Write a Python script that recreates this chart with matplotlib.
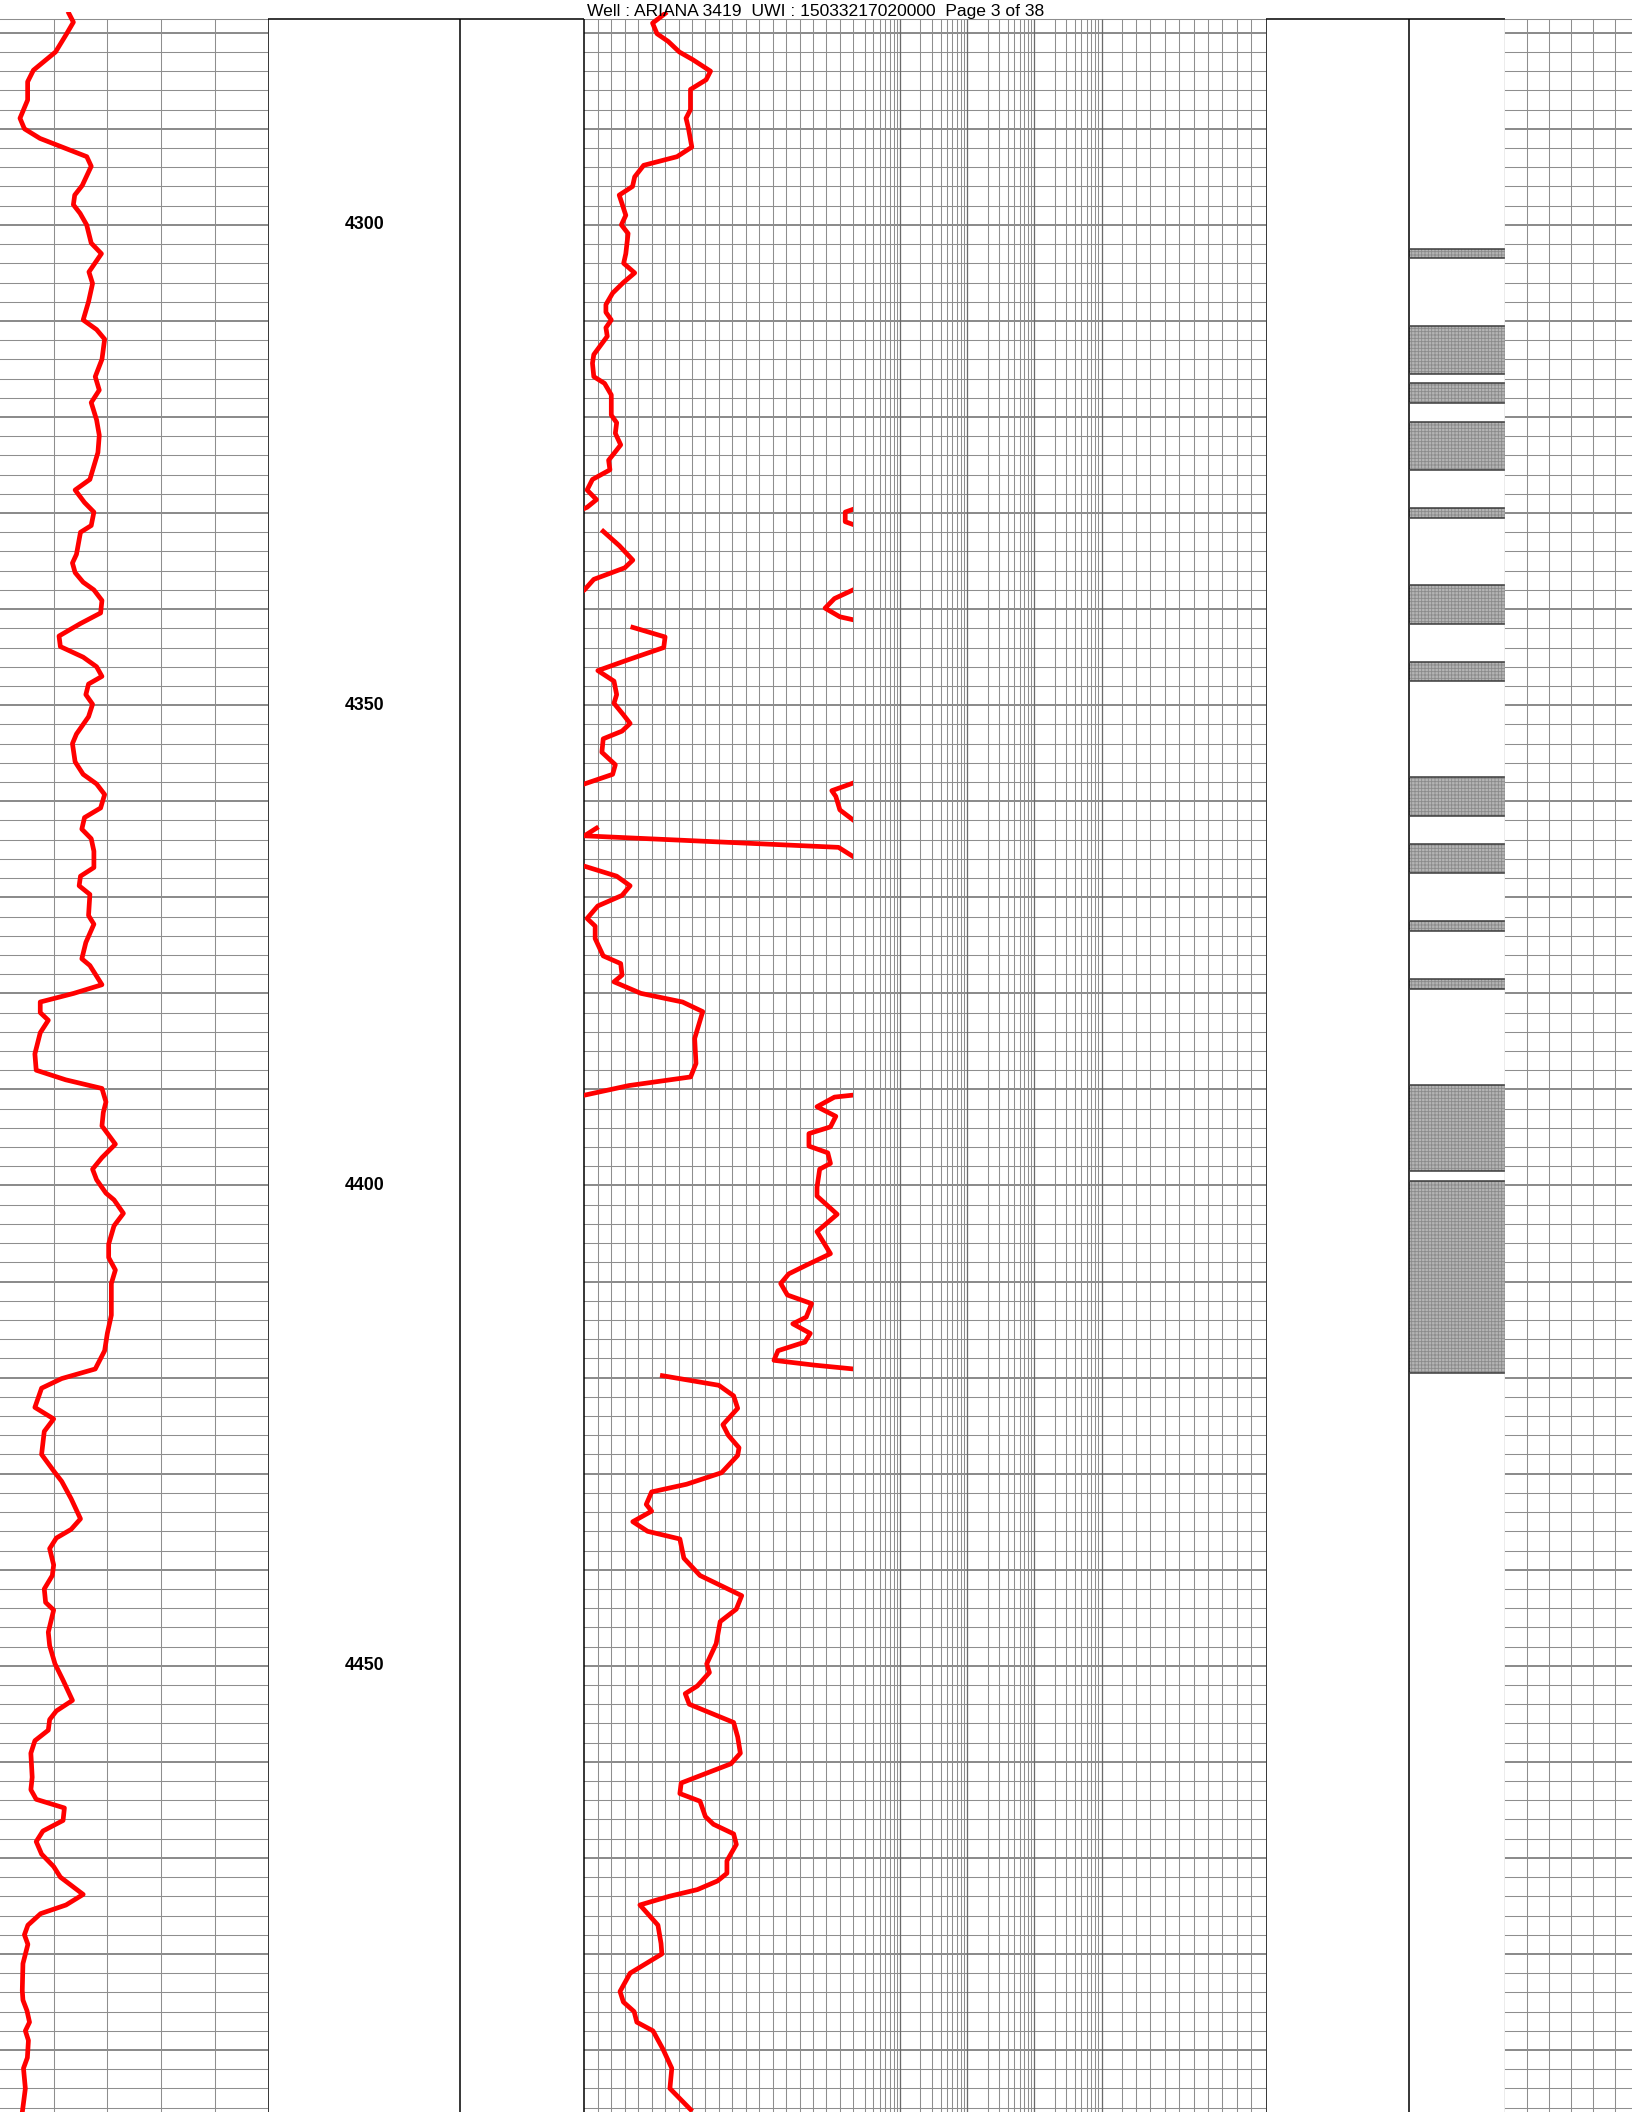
import numpy as np
import matplotlib.pyplot as plt

plt.rcParams['font.family'] = ['Liberation Sans', 'DejaVu Sans']
plt.rcParams['hatch.linewidth'] = 0.6

# Page / depth window
TITLE = "Well : ARIANA 3419  UWI : 15033217020000  Page 3 of 38"
TOP_DEPTH = 4278.6
AX_TOP = 4277.84
AX_BOT = 4496.45
depth_labels = [4300, 4350, 4400, 4450]

# Gamma ray (track 1, 0-200)
gr_value = [51.4, 54.7, 49.7, 41.4, 24.9, 20.6, 20.6, 14.9, 18.2, 29.8, 46.4, 64.7, 68.0, 61.3,
            55.7, 54.7, 59.7, 64.6, 68.0, 75.6, 66.3, 69.0, 66, 62, 72, 78, 76, 71, 74, 68, 72,
            74, 73, 67, 56, 63, 70, 68, 60, 57, 54, 56, 62, 70, 76, 75, 60, 44, 45, 62, 72, 76,
            66, 64, 69, 66, 57, 54, 56, 62, 72, 78, 75, 63, 61, 68, 70, 70, 60, 59, 67, 66, 70,
            64, 61, 67, 76, 55, 30, 30, 36, 30, 26, 27, 49, 76, 79, 77, 76, 86, 76, 69, 72, 79,
            85, 92, 85, 81, 81, 86, 83, 83, 80, 78, 71, 46, 31, 26, 40, 33, 31, 41, 46, 53, 60,
            53, 42, 37, 40, 39, 33, 34, 40, 36, 37, 41, 47, 54, 42, 37, 36, 26, 23, 24, 23, 27,
            48, 47, 32, 27, 31, 40, 45, 62, 49.2, 30.3, 20.8, 18.2, 20.8, 17.1, 16.6, 17.1, 20.1,
            22.0, 18.9, 21.2, 20.4, 17.5, 18.9, 16.6]
gr_depth = [4278.0, 4278.9, 4280.1, 4282.0, 4283.9, 4285.1, 4287.0, 4288.9, 4290.0, 4291.0, 4291.9,
            4292.9, 4293.9, 4295.9, 4296.9, 4297.9, 4298.8, 4300.0, 4301.9, 4303.0, 4304.9, 4306.1,
            4308.0, 4309.9, 4310.9, 4311.9, 4314.0, 4315.8, 4317.2, 4318.5, 4320.3, 4321.9, 4323.7,
            4326.5, 4327.6, 4328.9, 4329.9, 4331.3, 4332.0, 4334.3, 4335.2, 4336.2, 4337.2, 4338.0,
            4339.1, 4340.4, 4341.5, 4342.8, 4343.9, 4345.0, 4346.0, 4347.0, 4347.8, 4348.9, 4349.9,
            4351.2, 4353.0, 4354.0, 4355.9, 4357.2, 4358.2, 4359.3, 4360.7, 4361.7, 4362.9, 4363.9,
            4365.2, 4366.9, 4367.8, 4368.8, 4369.7, 4371.9, 4372.8, 4374.7, 4376.4, 4377.1, 4379.1,
            4380.0, 4380.9, 4382.0, 4382.8, 4384.1, 4386.3, 4388.0, 4389.0, 4389.9, 4391.3, 4392.4,
            4393.8, 4395.7, 4397.1, 4398.3, 4399.4, 4400.8, 4401.5, 4402.9, 4404.2, 4406.1, 4407.5,
            4408.8, 4410.2, 4413.5, 4415.4, 4417.2, 4419.1, 4420.1, 4421.1, 4423.1, 4424.3, 4425.6,
            4428.0, 4429.9, 4430.8, 4432.6, 4434.7, 4435.8, 4436.7, 4437.8, 4439.5, 4440.6, 4442.0,
            4443.4, 4444.2, 4446.5, 4447.9, 4449.8, 4451.5, 4453.6, 4454.7, 4455.6, 4456.7, 4457.8,
            4459.1, 4461.6, 4462.9, 4463.9, 4464.8, 4466.1, 4467.2, 4468.3, 4469.6, 4470.9, 4472.0,
            4473.8, 4474.9, 4475.8, 4477.0, 4478.0, 4479.0, 4481.0, 4483.8, 4484.8, 4485.9, 4487.1,
            4488.0, 4489.0, 4490.8, 4491.9, 4494.0, 4496.5]

# Track 3 curve (0-200 scale, wraps at edges; nan = pen up)
nan = np.nan
c3_value = [60.0, 50.7, 54.0, 62.3, 70.6, 80.6, 93.8, 90.5, 78.9, 78.9, 75.6, 77.3, 79.9, 68.9, 44.1,
            37.4, 35.8, 25.9, 30.8, 27.5, 32.5, 30.8, 29.2, 37.4, 29, 21, 16, 16, 20, 16, 17, 7, 6, 7,
            15, 20, 20, 24, 23, 27, 22, 18, 19, 6, 2, 9, 2, -3, nan,
            206, 194, 194, 206, nan,
            14, 26, 36, 30, 7, 0, -6, nan,
            206, 186, 179, 190, 206, nan,
            36, 60, 59, 32, 10, 22, 24, 22, 29, 34, 28, 14, 13, 23, 21, 0, -6, nan,
            206, 184, 187, 190, 206, nan,
            9, 0, 189, 206, nan,
            -6, 24, 34, 28, 10, 2, 8, 8, 14, 27, 28, 22, 42, 73, 88, 82, 83, 79, 33, 0, -6, nan,
            206, 186, 173, 187, 183, 167, 167, 181, 183, 175, 173, 173, 188, 173, 183, 165, 152,
            146, 151, 169, 165, 155, 168, 164, 144, 141, 171, 200, 206, nan,
            58, 100, 111, 114, 103, 107, 115, 114, 102, 76, 50, 46, 50, 36, 47, 71, 74, 86, 117,
            113, 101, 98, 91, 93, 84, 75, 78, 111, 114, 116, 109, 72, 71, 86, 90, 96, 111, 113, 106,
            106, 99, 84, 63, 41.3, 54.7, 57, 57.6, 34, 26.5, 29, 37, 39, 51, 58.4, 65, 63.6, 79]
c3_depth = [4278.0, 4279.0, 4280.1, 4280.9, 4282.0, 4282.8, 4284.0, 4284.9, 4285.9, 4288.0, 4288.9,
            4289.9, 4291.9, 4292.9, 4293.8, 4295.0, 4296.0, 4296.9, 4299.0, 4300.0, 4300.9, 4303.0,
            4304.0, 4305.0, 4306.0, 4307.1, 4308.3, 4309.1, 4309.9, 4310.7, 4311.6, 4313.5, 4314.4,
            4315.8, 4316.5, 4317.7, 4319.8, 4320.6, 4321.7, 4322.9, 4323.8, 4324.5, 4325.5, 4326.5,
            4327.6, 4328.6, 4329.4, 4329.7, nan,
            4329.3, 4329.9, 4330.9, 4331.5, nan,
            4331.9, 4333.4, 4334.9, 4335.7, 4336.9, 4338.0, 4338.6, nan,
            4337.6, 4338.9, 4339.9, 4340.8, 4341.3, nan,
            4341.9, 4342.9, 4344.0, 4345.3, 4346.4, 4347.5, 4348.9, 4349.8, 4351.0, 4351.9, 4352.7,
            4353.5, 4354.9, 4356.2, 4357.2, 4358.2, 4358.6, nan,
            4357.8, 4358.9, 4359.5, 4360.9, 4362.6, nan,
            4362.8, 4363.6, 4364.8, 4366.3, nan,
            4366.5, 4367.8, 4368.8, 4369.8, 4370.9, 4372.2, 4373.0, 4374.3, 4376.1, 4376.9, 4378.1,
            4378.8, 4380.0, 4380.9, 4381.9, 4384.7, 4387.3, 4388.7, 4389.6, 4390.6, 4390.7, nan,
            4390.5, 4390.8, 4391.8, 4392.8, 4393.9, 4394.6, 4395.9, 4396.6, 4397.7, 4398.3, 4400.2,
            4401.1, 4403.0, 4404.8, 4407.1, 4408.3, 4409.2, 4410.2, 4411.4, 4412.3, 4413.7, 4414.4,
            4415.4, 4416.3, 4417.2, 4418.2, 4418.7, 4419.1, 4419.2, nan,
            4419.8, 4420.8, 4421.9, 4423.2, 4424.9, 4426.0, 4427.3, 4428.1, 4429.9, 4431.1, 4431.9,
            4433.2, 4433.9, 4435.0, 4436.0, 4436.8, 4438.8, 4440.6, 4442.7, 4444.1, 4445.4, 4447.7,
            4449.8, 4450.7, 4452.1, 4452.9, 4454.0, 4455.9, 4457.4, 4459.1, 4460.2, 4462.2, 4463.3,
            4464.1, 4465.7, 4466.5, 4467.5, 4468.6, 4470.3, 4471.6, 4472.4, 4473.3, 4474.0, 4474.9,
            4477.0, 4478.9, 4480.0, 4482.0, 4483.9, 4485.0, 4486.0, 4487.1, 4488.0, 4489.9, 4491.9,
            4494.0, 4496.2]

# Lithology (shaded intervals)
litho_top = [4302.5, 4310.5, 4316.5, 4320.5, 4329.5, 4337.5, 4345.5, 4357.5, 4364.5, 4372.5,
             4378.5, 4389.5, 4399.5]
litho_base = [4303.5, 4315.5, 4318.5, 4325.5, 4330.5, 4341.5, 4347.5, 4361.5, 4367.5, 4373.5,
              4379.5, 4398.5, 4419.5]

W, H = 1632, 2112
MINOR = '#8e8e8e'
MAJOR = '#6a6a6a'
RED = '#ff0000'
CURVE_LW = 3.4

fig = plt.figure(figsize=(W / 100, H / 100), dpi=100)


def track(x0, x1, xlim=(0, 1), log=False):
    ax = fig.add_axes([x0 / W, 0, (x1 - x0) / W, (H - 12) / H])
    if log:
        ax.set_xscale('log')
    ax.set_xlim(*xlim)
    ax.set_ylim(AX_BOT, AX_TOP)
    ax.axis('off')
    return ax


def hgrid(ax):
    for d in range(4280, 4497, 2):
        major = d % 10 == 0
        ax.axhline(d, color=MAJOR if major else MINOR, lw=1.1 if major else 0.75, zorder=1)
    ax.axhline(TOP_DEPTH, color=MINOR, lw=0.75, zorder=1)


def vgrid(ax, xs):
    ax.vlines(xs, TOP_DEPTH, AX_BOT, color=MINOR, lw=0.75, zorder=1)


def border(ax, xs, top=True):
    ax.vlines(xs, TOP_DEPTH, AX_BOT, color='black', lw=1.1, zorder=3)
    if top:
        ax.hlines(TOP_DEPTH, min(xs), max(xs), color='black', lw=1.1, zorder=3)


# Track 1 - gamma ray
ax1 = track(0, 268.3, (0, 200))
hgrid(ax1)
vgrid(ax1, [40, 80, 120, 160])
ax1.plot(gr_value, gr_depth, color=RED, lw=CURVE_LW, solid_joinstyle='round', zorder=4)

# Depth track
axd = track(268.3, 460.3)
border(axd, [0, 1])
for d in depth_labels:
    axd.text(0.5, d, str(d), ha='center', va='center', fontsize=12.8, fontweight='bold')

# Blank track
axb = track(460.3, 584.4)
border(axb, [0, 1])

# Track 3 - linear part
ax3 = track(584.4, 853.3, (0, 200))
hgrid(ax3)
vgrid(ax3, np.arange(10, 200, 10))
ax3.vlines(0, TOP_DEPTH, AX_BOT, color='black', lw=1.1, zorder=3)
ax3.plot(c3_value, c3_depth, color=RED, lw=CURVE_LW, solid_joinstyle='round', zorder=4)

# Track 3 - log part (0.2 - 2000)
ax3l = track(853.3, 1121.7, (0.2, 2000), log=True)
hgrid(ax3l)
log_lines = []
for dec in [0.1, 1, 10, 100, 1000]:
    for m in range(1, 10):
        v = m * dec
        if 0.2 <= v <= 2000:
            log_lines.append(v)
ax3l.vlines(log_lines, TOP_DEPTH, AX_BOT, color=MINOR, lw=0.75, zorder=1)
ax3l.vlines([1, 10, 100, 1000], TOP_DEPTH, AX_BOT, color=MAJOR, lw=0.9, zorder=1)

# Track 3 - right linear part
ax3r = track(1121.7, 1265.5, (0, 10))
hgrid(ax3r)
vgrid(ax3r, np.arange(0, 10))

# Track 4 - blank
ax4 = track(1265.5, 1409.3)
border(ax4, [0, 1])

# Lithology track
axl = track(1409.3, 1505)
axl.hlines(TOP_DEPTH, 0, 1, color='black', lw=1.1, zorder=3)
axl.vlines(0, TOP_DEPTH, AX_BOT, color='black', lw=1.1, zorder=3)
thick = [b - t for t, b in zip(litho_top, litho_base)]
axl.barh(litho_top, 1, height=thick, left=0, align='edge', color='#b4b4b4',
         hatch='+++++', edgecolor='#8a8a8a', lw=0, zorder=2)
axl.hlines(litho_top + litho_base, 0, 1, color='#3a3a3a', lw=1.1, zorder=3)
axl.vlines(1, TOP_DEPTH, AX_BOT, color='#a0a0a0', lw=1.0, zorder=3)

# Track 6 - grid (runs off the page)
ax6 = track(1505, 1725, (0, 10))
hgrid(ax6)
vgrid(ax6, np.arange(1, 10))

fig.text(815.4 / W, 1 - 16 / H, TITLE, ha='center', va='baseline', fontsize=12.6)

fig.savefig('out.png', dpi=100)
